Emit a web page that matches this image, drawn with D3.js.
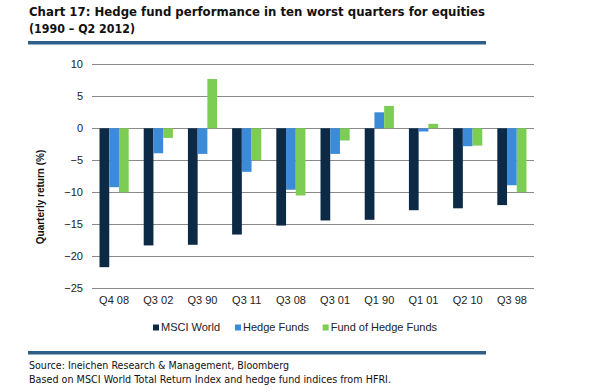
<!DOCTYPE html>
<html>
<head>
<meta charset="utf-8">
<script src="https://cdn.jsdelivr.net/npm/d3@7"></script>
<style>
  body { margin: 0; background: #fff; }
  svg { display: block; }
</style>
</head>
<body>
<svg id="chart" width="594" height="392"></svg>
<script>
const quarters = ['Q4 08', 'Q3 02', 'Q3 90', 'Q3 11', 'Q3 08', 'Q3 01', 'Q1 90', 'Q1 01', 'Q2 10', 'Q3 98'];
const msciWorld = [-21.7, -18.3, -18.2, -16.6, -15.2, -14.4, -14.3, -12.8, -12.5, -12.0];
const hedgeFunds = [-9.2, -3.9, -4.0, -6.8, -9.6, -4.0, 2.5, -0.5, -2.8, -8.9];
const fundOfHedgeFunds = [-10.0, -1.5, 7.7, -5.0, -10.5, -1.9, 3.5, 0.7, -2.7, -10.0];
const seriesNames = ['MSCI World', 'Hedge Funds', 'Fund of Hedge Funds'];
const yTicks = [10, 5, 0, -5, -10, -15, -20, -25];

const colors = ['#0c2a46', '#3b8bd9', '#7dcd55'];
const series = [msciWorld, hedgeFunds, fundOfHedgeFunds];

const svg = d3.select('#chart');

// title + rules
svg.append('text')
  .attr('x', 29).attr('y', 16)
  .attr('font-family', 'DejaVu Sans').attr('font-weight', 'bold').attr('font-size', 12.5)
  .attr('textLength', 456).attr('lengthAdjust', 'spacingAndGlyphs')
  .attr('fill', '#111')
  .text('Chart 17: Hedge fund performance in ten worst quarters for equities');
svg.append('text')
  .attr('x', 29).attr('y', 33)
  .attr('font-family', 'DejaVu Sans').attr('font-weight', 'bold').attr('font-size', 12.5)
  .attr('textLength', 106).attr('lengthAdjust', 'spacingAndGlyphs')
  .attr('fill', '#111')
  .text('(1990 \u2013 Q2 2012)');
svg.append('rect').attr('x', 28).attr('y', 41).attr('width', 458).attr('height', 3.5).attr('fill', '#2f5f88');
svg.append('rect').attr('x', 28).attr('y', 351).attr('width', 458).attr('height', 3.5).attr('fill', '#2f5f88');

svg.append('text')
  .attr('x', 29).attr('y', 369)
  .attr('font-family', 'DejaVu Sans').attr('font-size', 11)
  .attr('textLength', 260).attr('lengthAdjust', 'spacingAndGlyphs')
  .attr('fill', '#111')
  .text('Source: Ineichen Research & Management, Bloomberg');
svg.append('text')
  .attr('x', 29).attr('y', 383)
  .attr('font-family', 'DejaVu Sans').attr('font-size', 11)
  .attr('textLength', 362).attr('lengthAdjust', 'spacingAndGlyphs')
  .attr('fill', '#111')
  .text('Based on MSCI World Total Return Index and hedge fund indices from HFRI.');

// plot
const left = 92, right = 534;
const y = d3.scaleLinear().domain([-25, 10]).range([288.3, 64.3]);
const x = d3.scaleBand().domain(quarters).range([left, right]).paddingInner(0.34).paddingOuter(0.17);
const xs = d3.scaleBand().domain(d3.range(3)).range([0, x.bandwidth()]);

const g = svg.append('g');

g.selectAll('line.grid')
  .data(yTicks)
  .join('line')
  .attr('class', 'grid')
  .attr('x1', left).attr('x2', right)
  .attr('y1', d => Math.round(y(d)) + 0.5).attr('y2', d => Math.round(y(d)) + 0.5)
  .attr('stroke', '#8a8a8a').attr('stroke-width', 1);

const yAxis = d3.axisLeft(y).tickValues(yTicks).tickSize(0).tickPadding(9).tickFormat(d3.format('d'));
g.append('g')
  .attr('transform', `translate(${left},0)`)
  .call(yAxis)
  .call(s => s.select('.domain').remove())
  .selectAll('text')
  .attr('font-family', 'Liberation Sans, Arial').attr('font-size', 11).attr('fill', '#222');

const xAxis = d3.axisBottom(x).tickSize(0).tickPadding(8);
g.append('g')
  .attr('transform', `translate(0,${y(-25)})`)
  .call(xAxis)
  .call(s => s.select('.domain').remove())
  .selectAll('text')
  .attr('font-family', 'Liberation Sans, Arial').attr('font-size', 11).attr('fill', '#222');

const groups = g.selectAll('g.quarter')
  .data(quarters)
  .join('g')
  .attr('class', 'quarter')
  .attr('transform', d => `translate(${x(d)},0)`);

groups.selectAll('rect')
  .data((q, i) => series.map((s, k) => ({ k, v: s[i] })))
  .join('rect')
  .attr('x', d => xs(d.k))
  .attr('width', xs.bandwidth())
  .attr('y', d => y(Math.max(0, d.v)))
  .attr('height', d => Math.abs(y(d.v) - y(0)))
  .attr('fill', d => colors[d.k]);

// y title
svg.append('text')
  .attr('transform', 'translate(44,197) rotate(-90)')
  .attr('text-anchor', 'middle')
  .attr('font-family', 'Liberation Sans, Arial').attr('font-weight', 'bold').attr('font-size', 10)
  .attr('fill', '#111')
  .text('Quarterly return (%)');

// legend
const legendX = [153, 235, 322.7];
const legend = svg.selectAll('g.legend')
  .data(seriesNames)
  .join('g')
  .attr('class', 'legend')
  .attr('transform', (d, i) => `translate(${legendX[i]},0)`);
legend.append('rect').attr('x', 0).attr('y', 324.5).attr('width', 6).attr('height', 6).attr('fill', (d, i) => colors[i]);
legend.append('text')
  .attr('x', 8).attr('y', 331)
  .attr('font-family', 'Liberation Sans, Arial').attr('font-size', 11).attr('fill', '#222')
  .text(d => d);
</script>
</body>
</html>
